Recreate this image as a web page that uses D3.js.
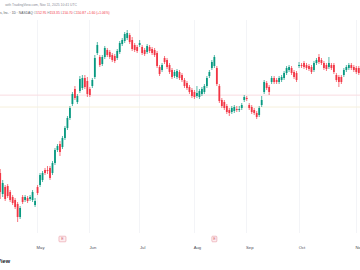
<!DOCTYPE html>
<html>
<head>
<meta charset="utf-8">
<script src="https://cdn.jsdelivr.net/npm/d3@7"></script>
<style>
    html, body { margin: 0; padding: 0; background: #ffffff; }
    svg { display: block; }
</style>
</head>
<body>
<svg id="chart"></svg>
<script>
// *** Data: daily candles, Apr 8 2025 (index 0) to Nov 3 2025 (index 144) ***
var open = [73, 52, 59, 60, 54, 49, 46, 42, 29, 49, 46, 48, 47, 46, 41, 59,
    61, 66, 76, 76, 78, 73, 83, 96, 102, 99, 108, 118, 128, 142, 157, 144, 155, 158, 168, 165, 157,
    160, 169, 193, 189, 182, 189, 196, 194, 191, 190, 188, 194, 202, 205, 208, 211, 206, 201, 199, 201,
    199, 196, 194, 199, 197, 196, 193, 179, 176, 188, 186, 181, 176, 170, 169, 174, 171, 166, 163, 159, 156, 154,
    150, 149, 152, 154, 160, 170, 178, 180, 178, 160, 146, 144, 140, 136, 134, 135, 137, 136, 138, 146, 148,
    141, 139, 136, 133, 131, 141, 154, 163, 159, 164, 168, 166, 164, 166, 168, 173, 176, 178, 174, 173, 180,
    181, 183, 181, 180, 179, 176, 183, 189, 186, 183, 181, 179, 181, 181, 171, 169, 169, 171, 176, 178, 181, 179, 178, 178];
var high = [77, 66, 61, 62, 56, 51, 48, 44, 40, 51, 51, 50, 51, 56, 48, 61,
    73, 75, 78, 80, 80, 85, 98, 102, 105, 110, 120, 130, 140, 154, 160, 152, 170, 171, 171, 169, 159,
    168, 191, 204, 191, 191, 200, 198, 196, 193, 192, 197, 205, 208, 214, 216, 213, 209, 203, 201, 206,
    201, 198, 202, 201, 199, 198, 195, 181, 183, 190, 188, 183, 178, 176, 177, 176, 173, 168, 165, 161, 158, 156,
    160, 157, 159, 162, 170, 176, 186, 191, 180, 162, 148, 146, 142, 138, 140, 141, 140, 140, 143, 151, 150,
    143, 141, 138, 135, 140, 150, 166, 165, 161, 170, 170, 168, 170, 171, 175, 180, 181, 180, 176, 175, 184,
    183, 185, 183, 182, 181, 185, 188, 192, 188, 185, 183, 189, 183, 183, 173, 171, 171, 178, 181, 183, 183, 181, 180, 180];
var low = [47, 49, 45, 48, 44, 41, 37, 24, 27, 42, 44, 43, 45, 44, 39, 51,
    59, 64, 71, 72, 66, 71, 81, 94, 90, 97, 106, 116, 126, 140, 146, 142, 153, 156, 157, 149, 149,
    158, 167, 191, 179, 180, 187, 189, 187, 184, 183, 186, 192, 200, 203, 206, 202, 195, 194, 193, 199,
    191, 190, 192, 193, 191, 189, 178, 170, 174, 182, 177, 172, 167, 168, 167, 166, 164, 158, 156, 152, 148, 147,
    148, 147, 150, 152, 158, 168, 176, 178, 160, 143, 138, 136, 132, 130, 132, 133, 134, 134, 136, 144, 145,
    136, 132, 131, 127, 129, 139, 152, 156, 151, 162, 162, 162, 162, 164, 166, 171, 174, 171, 167, 164, 178,
    178, 177, 176, 175, 172, 174, 181, 182, 181, 176, 175, 177, 176, 172, 164, 159, 162, 169, 174, 176, 176, 174, 172, 171];
var close = [54, 63, 47, 50, 46, 43, 39, 29, 38, 44, 49, 45, 49, 54, 45, 53,
    71, 73, 73, 75, 68, 83, 96, 100, 94, 108, 118, 128, 138, 152, 148, 150, 167, 168, 159, 152, 151,
    166, 188, 201, 181, 189, 198, 191, 189, 186, 185, 195, 203, 206, 212, 213, 204, 197, 196, 195, 203,
    193, 192, 200, 195, 193, 191, 180, 172, 181, 184, 179, 174, 169, 174, 175, 168, 166, 160, 158, 154, 150, 149,
    153, 155, 157, 160, 168, 174, 184, 189, 162, 145, 140, 138, 134, 133, 138, 139, 136, 137, 141, 149, 147,
    138, 134, 133, 129, 138, 146, 164, 158, 154, 168, 164, 164, 168, 169, 173, 178, 179, 173, 169, 166, 181,
    180, 179, 178, 177, 174, 183, 186, 184, 183, 178, 177, 183, 178, 174, 166, 164, 164, 176, 179, 181, 178, 176, 174, 173];

var monthLabels = ["May", "Jun", "Jul", "Aug", "Sep", "Oct", "Nov"];
var monthIndex = [16, 37, 57, 79, 100, 121, 144];
var earningsIndex = [25, 86];

var lastClose = 150.87;
var guideLevel = 139;

var headerLine = "with TradingView.com, Nov 11, 2025 10:41 UTC";
var symbolLine = "s, Inc. \u00b7 1D \u00b7 NASDAQ";
var ohlcLetters = ["O", "H", "L", "C"];
var ohlcValues = ["152.95", "153.35", "150.70", "150.87"];
var changeText = "+1.60 (+1.06%)";


// *** Define Our Variables ***
var svgWidth = 360, svgHeight = 270;
var upColor = "#089981", downColor = "#f23645";
var font = "'Liberation Sans', Arial, sans-serif";

var svg = d3.select("#chart")
    .attr("width", svgWidth)
    .attr("height", svgHeight)
    .style("font-family", font);

svg.append("rect")
    .attr("width", svgWidth)
    .attr("height", svgHeight)
    .attr("fill", "#ffffff");


// *** Scales *** (trading day index -> x, price -> y)
var xScale = d3.scaleLinear()
    .domain([0, 144])
    .range([0.2, 358.8]);

var yScale = d3.scaleLinear()
    .domain([14, 246])
    .range([232, 0]);


// *** Grid ***
svg.append("g")
    .selectAll("line")
    .data(monthIndex)
    .enter()
    .append("line")
    .attr("x1", function (d) { return Math.round(xScale(d)) - 2.5; })
    .attr("x2", function (d) { return Math.round(xScale(d)) - 2.5; })
    .attr("y1", 20)
    .attr("y2", 233)
    .attr("stroke", "#f3f4f7")
    .attr("stroke-width", 1);

// guide line + last price line
svg.append("line")
    .attr("x1", 0).attr("x2", svgWidth)
    .attr("y1", yScale(guideLevel)).attr("y2", yScale(guideLevel))
    .attr("stroke", "#f6f0dc")
    .attr("stroke-width", 1);

svg.append("line")
    .attr("x1", 0).attr("x2", svgWidth)
    .attr("y1", yScale(lastClose)).attr("y2", yScale(lastClose))
    .attr("stroke", "#f9dde1")
    .attr("stroke-width", 1);


// *** The candles ***
var candles = svg.append("g")
    .selectAll("g")
    .data(d3.range(open.length))
    .enter()
    .append("g");

function candleColor(i) {
    return close[i] >= open[i] ? upColor : downColor;
}

candles.append("line")
    .attr("x1", function (i) { return xScale(i); })
    .attr("x2", function (i) { return xScale(i); })
    .attr("y1", function (i) { return yScale(high[i]); })
    .attr("y2", function (i) { return yScale(low[i]); })
    .attr("stroke", candleColor)
    .attr("stroke-width", 0.7);

candles.append("rect")
    .attr("x", function (i) { return xScale(i) - 0.9; })
    .attr("width", 1.8)
    .attr("y", function (i) { return yScale(Math.max(open[i], close[i])); })
    .attr("height", function (i) {
        return Math.max(0.8, Math.abs(yScale(open[i]) - yScale(close[i])));
    })
    .attr("fill", candleColor);


// *** Earnings markers ***
var marks = svg.append("g")
    .selectAll("g")
    .data(earningsIndex)
    .enter()
    .append("g")
    .attr("transform", function (d) {
        return "translate(" + xScale(d) + ",239)";
    });

marks.append("rect")
    .attr("x", function (d, i) { return i === 0 ? -3.5 : -2.5; })
    .attr("y", -2.8)
    .attr("width", function (d, i) { return i === 0 ? 7 : 5; })
    .attr("height", 5.6)
    .attr("rx", 0.8)
    .attr("fill", "#fdeef0")
    .attr("stroke", "#e89aa5")
    .attr("stroke-width", 0.6);

marks.append("text")
    .attr("text-anchor", "middle")
    .attr("dy", "0.35em")
    .attr("font-size", 3.6)
    .attr("fill", "#d05a6c")
    .text("E");


// *** The x axis ***
var xAxis = d3.axisBottom(xScale)
    .tickValues(monthIndex)
    .tickFormat(function (d, i) { return monthLabels[i]; })
    .tickSize(0)
    .tickPadding(2);

var axisG = svg.append("g")
    .attr("transform", "translate(0,244.5)")
    .call(xAxis);

axisG.select(".domain").remove();
axisG.selectAll("text")
    .attr("font-family", font)
    .attr("font-size", 4.2)
    .attr("fill", "#4a4d57");


// *** Header texts ***
svg.append("text")
    .attr("x", 77)
    .attr("y", 6)
    .attr("text-anchor", "end")
    .attr("font-size", 3.4)
    .attr("fill", "#8a8d96")
    .text(headerLine);

var info = svg.append("text")
    .attr("x", 0)
    .attr("y", 14.2)
    .attr("font-size", 3.3)
    .attr("fill", "#555862");

info.append("tspan").text(symbolLine + "  ");
ohlcLetters.forEach(function (l, i) {
    info.append("tspan").attr("fill", "#8a8d96").text((i ? " " : "") + l);
    info.append("tspan").attr("fill", downColor).text(ohlcValues[i]);
});
info.append("tspan").attr("fill", downColor).text(" " + changeText);


// *** Watermark ***
svg.append("text")
    .attr("x", 10)
    .attr("y", 263)
    .attr("text-anchor", "end")
    .attr("font-size", 5.6)
    .attr("font-weight", "bold")
    .attr("fill", "#131722")
    .text("TradingView");
</script>
</body>
</html>
